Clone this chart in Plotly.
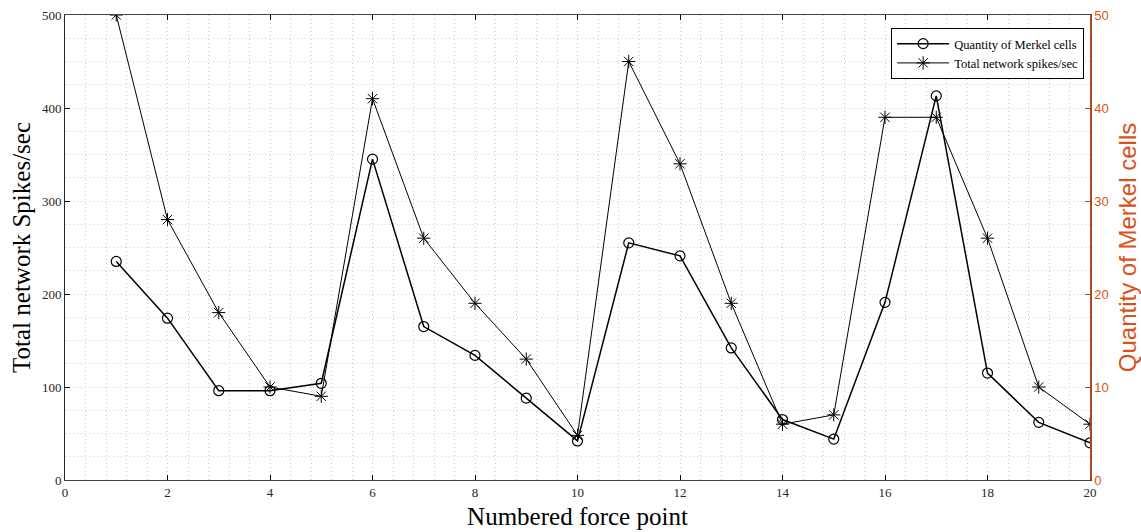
import plotly.graph_objects as go

force_points = list(range(1, 21))
spikes = [500, 280, 180, 100, 90, 410, 260, 190, 130, 48, 450, 340, 190, 60, 70, 390, 390, 260, 100, 60]
merkel = [23.5, 17.4, 9.6, 9.6, 10.4, 34.5, 16.5, 13.4, 8.8, 4.2, 25.5, 24.1, 14.2, 6.5, 4.4, 19.1, 41.3, 11.5, 6.2, 4.0]

ORANGE = "#D95319"
AXIS_BROWN = "#A94A1E"
SERIF = "Liberation Serif, Times New Roman, serif"
SANS = "Liberation Sans, Arial, sans-serif"
GRIDC = "#cfcfcf"
DASH = "1px,3px"

fig = go.Figure()

fig.add_trace(go.Scatter(
    x=force_points, y=merkel, name="Quantity of Merkel cells",
    mode="lines+markers", yaxis="y2",
    line=dict(color="black", width=1.5),
    marker=dict(symbol="circle-open", size=10, color="black", line=dict(width=1.2)),
))
fig.add_trace(go.Scatter(
    x=force_points, y=spikes, name="Total network spikes/sec",
    mode="lines+markers", yaxis="y",
    line=dict(color="black", width=1),
    marker=dict(symbol="asterisk-open", size=11, color="black", line=dict(width=1, color="black")),
))

fig.update_layout(
    width=1141, height=532,
    margin=dict(l=65, r=51, t=15, b=52),
    paper_bgcolor="white", plot_bgcolor="white",
    showlegend=True,
    legend=dict(
        x=0.806, y=0.972, xanchor="left", yanchor="top",
        bordercolor="black", borderwidth=1, bgcolor="white",
        font=dict(family=SERIF, size=12.5, color="black"),
        tracegroupgap=0, itemwidth=52,
    ),
    xaxis=dict(
        range=[0, 20], dtick=2, tick0=0, automargin=False,
        ticks="inside", ticklen=5, tickcolor="black",
        showline=True, linecolor="#444444", linewidth=1, mirror="ticks",
        showgrid=True, gridcolor=GRIDC, griddash=DASH, gridwidth=1,
        minor=dict(dtick=0.4, showgrid=True, gridcolor=GRIDC, griddash=DASH, gridwidth=1),
        zeroline=False,
        tickfont=dict(family=SERIF, size=13, color="#262626"),
        title=dict(text="Numbered force point", font=dict(family=SERIF, size=25, color="black"), standoff=8),
    ),
    yaxis=dict(
        range=[0, 500], dtick=100, tick0=0, automargin=False,
        ticks="inside", ticklen=5, tickcolor="black",
        showline=True, linecolor="#262626", linewidth=1,
        showgrid=True, gridcolor=GRIDC, griddash=DASH, gridwidth=1,
        minor=dict(dtick=25, showgrid=True, gridcolor=GRIDC, griddash=DASH, gridwidth=1),
        zeroline=False,
        tickfont=dict(family=SERIF, size=13, color="#262626"),
        title=dict(text="Total network Spikes/sec", font=dict(family=SERIF, size=25, color="black"), standoff=4),
    ),
    yaxis2=dict(
        range=[0, 50], dtick=10, tick0=0, automargin=False,
        overlaying="y", side="right", anchor="x",
        ticks="inside", ticklen=5, tickcolor=AXIS_BROWN,
        showline=True, linecolor=AXIS_BROWN, linewidth=1.5,
        showgrid=False, zeroline=False,
        tickfont=dict(family=SANS, size=13, color=ORANGE),
        title=dict(text="Quantity of Merkel cells", font=dict(family=SANS, size=24, color=ORANGE), standoff=12),
    ),
)

fig.write_html("out.html")
